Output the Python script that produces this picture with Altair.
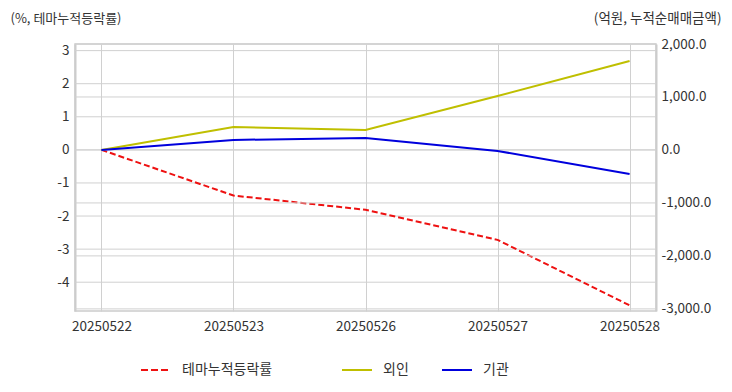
import altair as alt
import pandas as pd

dates = ["20250522", "20250523", "20250526", "20250527", "20250528"]
theme_pct = [0.0, -1.38, -1.81, -2.72, -4.70]
foreign = [0.0, 434, 377, 1019, 1679]
institution = [0.0, 189, 226, -19, -453]

left_names = ["테마누적등락률"]
left_colors = ["#ee1111"]
right_names = ["외인", "기관"]
right_colors = ["#bfbf00", "#0000dd"]

left_ticks = [-4, -3, -2, -1, 0, 1, 2, 3]
right_ticks = [-3000, -2000, -1000, 0, 1000, 2000]

FONT = "Noto Sans CJK KR"
GRID = "#d0d0d0"
TXT = "#333333"

df_left = pd.DataFrame({"date": dates, "value": theme_pct, "series": left_names[0]})
df_right = pd.concat([
    pd.DataFrame({"date": dates, "value": foreign, "series": right_names[0]}),
    pd.DataFrame({"date": dates, "value": institution, "series": right_names[1]}),
])
df_lgrid = pd.DataFrame({"value": left_ticks})
df_rgrid = pd.DataFrame({"value": right_ticks})

x_enc = alt.X("date:O", title=None,
              scale=alt.Scale(type="point", padding=0.2),
              axis=alt.Axis(labelAngle=0, grid=True, gridColor=GRID, domain=False,
                            ticks=False, labelPadding=8, labelFontSize=13.5,
                            labelColor=TXT, labelFont=FONT))

left_y = alt.Y("value:Q", title="(%, 테마누적등락률)",
               scale=alt.Scale(domain=[-4.87, 3.2], nice=False, zero=False),
               axis=alt.Axis(values=left_ticks, labelExpr="toString(datum.value)", grid=False,
                             domainColor="#cccccc", domainWidth=2, ticks=False, labelPadding=6,
                             labelFontSize=13.5, labelColor=TXT, labelFont=FONT,
                             titleAngle=0, titleAlign="left", titleBaseline="middle",
                             titleX=-65, titleY=-26, titleFontWeight="normal",
                             titleFontSize=13, titleColor=TXT, titleFont=FONT))

right_y = alt.Y("value:Q", title="(억원, 누적순매매금액)",
                scale=alt.Scale(domain=[-3040, 2000], nice=False, zero=False),
                axis=alt.Axis(orient="right", values=right_ticks,
                              labelExpr="replace(format(datum.value, ',.1f'), '\u2212', '-')",
                              grid=False, domainColor="#cccccc", domainWidth=2,
                              ticks=False, labelPadding=5, labelFontSize=13.5,
                              labelColor=TXT, labelFont=FONT,
                              titleAngle=0, titleAlign="right", titleBaseline="middle",
                              titleX=65, titleY=-26, titleFontWeight="normal",
                              titleFontSize=13.5, titleColor=TXT, titleFont=FONT))

legend_common = dict(title=None, orient="none", direction="horizontal",
                     symbolType="stroke", symbolSize=900, symbolStrokeWidth=2,
                     labelFontSize=14, labelFont=FONT, labelColor=TXT,
                     labelOffset=10, padding=0)

left_grid = alt.Chart(df_lgrid).mark_rule(color=GRID, strokeWidth=1).encode(y=left_y)
left_line = alt.Chart(df_left).mark_line(strokeWidth=2, strokeDash=[6, 3]).encode(
    x=x_enc,
    y=left_y,
    color=alt.Color("series:N", scale=alt.Scale(domain=left_names, range=left_colors),
                    legend=alt.Legend(legendX=65, legendY=310, symbolDash=[7, 3],
                                      **legend_common)),
)

right_grid = alt.Chart(df_rgrid).mark_rule(color=GRID, strokeWidth=1).encode(y=right_y)
right_line = alt.Chart(df_right).mark_line(strokeWidth=2).encode(
    x=x_enc,
    y=right_y,
    color=alt.Color("series:N", scale=alt.Scale(domain=right_names, range=right_colors),
                    legend=alt.Legend(legendX=266, legendY=310, columnPadding=29,
                                      **legend_common)),
)

chart = alt.layer(
    alt.layer(left_grid, left_line),
    alt.layer(right_grid, right_line),
).resolve_scale(y="independent", color="independent").properties(
    width=581, height=267,
    autosize=alt.AutoSizeParams(type="none"),
    padding={"left": 67, "top": 36, "right": 68, "bottom": 73},
).configure_view(stroke="#cccccc", strokeWidth=1.5)

chart.save("out.html", embed_options={"renderer": "svg", "actions": False})
